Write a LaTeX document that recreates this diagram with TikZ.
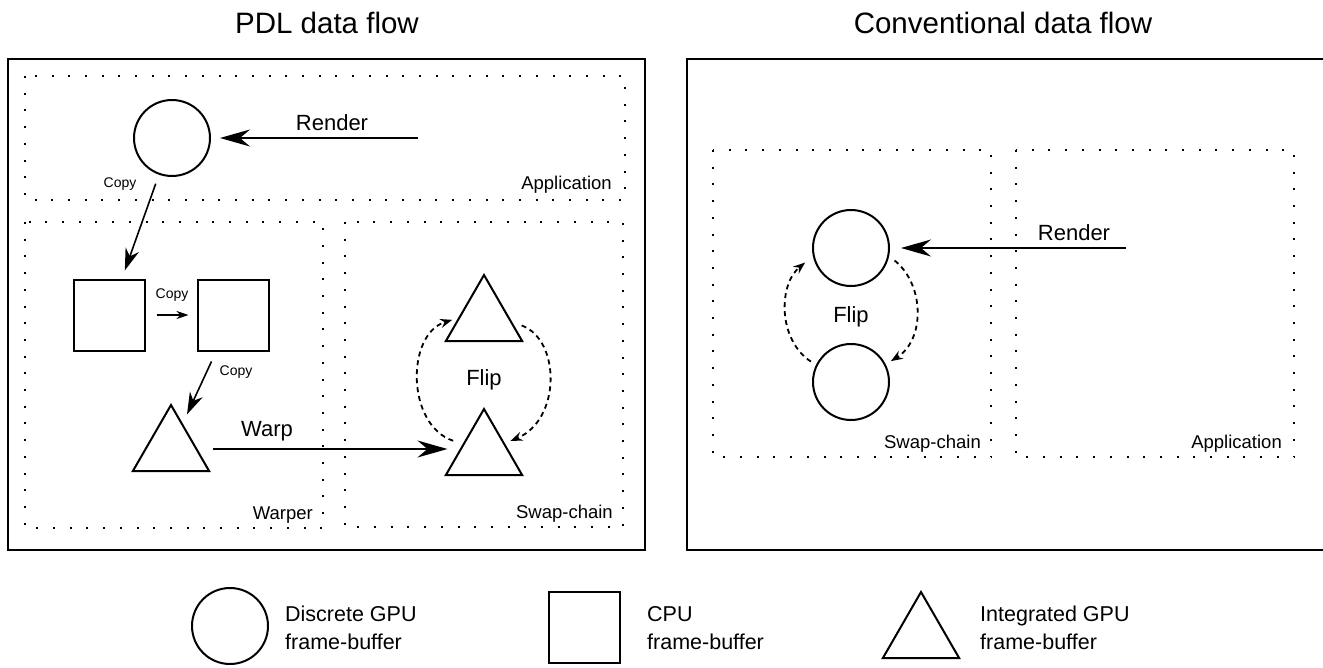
\documentclass[tikz,border=0pt]{standalone}
\usepackage{fontspec}
\setmainfont{Liberation Sans}
\usetikzlibrary{arrows.meta,shapes.geometric}
\begin{document}
\begin{tikzpicture}[x=1pt,y=-1pt,
  fbox/.style={draw, line width=2pt},
  region/.style={draw, line width=2pt, dash pattern=on 2pt off 14.7pt},
  dgpu/.style={circle, draw, line width=2pt, minimum size=76pt, inner sep=0pt},
  cpu/.style={rectangle, draw, line width=2pt, minimum size=71pt, inner sep=0pt},
  igpu/.style={regular polygon, regular polygon sides=3, draw, line width=2pt, minimum size=88pt, inner sep=0pt},
  big/.style={font=\fontsize{22}{26}\selectfont, anchor=base, inner sep=0pt},
  small/.style={font=\fontsize{14}{17}\selectfont, anchor=base, inner sep=0pt},
  reg/.style={font=\fontsize{18.5}{22}\selectfont, anchor=base east, inner sep=0pt},
  ttl/.style={font=\fontsize{29.5}{35}\selectfont, anchor=base, inner sep=0pt},
  legtxt/.style={font=\fontsize{21.5}{28}\selectfont, align=left, anchor=west, inner sep=0pt},
  arr/.style={line width=1.6pt},
  bigtip/.style={-{Stealth[length=30pt,width=17pt,inset=10pt]}},
  midtip/.style={-{Stealth[length=22pt,width=14pt,inset=7pt]}},
  smalltip/.style={-{Stealth[length=12pt,width=8pt,inset=4pt]}},
  fliparr/.style={line width=1.8pt, dash pattern=on 5pt off 4pt, -{Stealth[length=12pt,width=9pt,inset=4pt]}}
]
\useasboundingbox (0,0) rectangle (1323,667);
\clip (0,0) rectangle (1323,667);

% titles
\node[ttl] (t1) at (327,33) {PDL data flow};
\node[ttl] (t2) at (1003,33) {Conventional data flow};

% outer frames
\draw[fbox] (8,59) rectangle (645,550);
\draw[fbox] (687,59) rectangle (1340,550);

% left regions
\draw[region] (25,76) rectangle (625,200);
\draw[region] (25,222) rectangle (323,528);
\draw[region] (345,222) rectangle (623,527);
% right regions
\draw[region] (713,150) rectangle (991,457);
\draw[region] (1016,150) rectangle (1294,457);

% region labels
\node[reg] (lApp1) at (612,189) {Application};
\node[reg] (lWarper) at (313,519) {Warper};
\node[reg] (lSwap1) at (613,518) {Swap-chain};
\node[reg] (lSwap2) at (981,448) {Swap-chain};
\node[reg] (lApp2) at (1282,448) {Application};

% PDL nodes
\node[dgpu] (appA) at (172,138) {};
\node[cpu] (sq1) at (109,315) {};
\node[cpu] (sq2) at (233,315) {};
\node[igpu] (triL) at (171,449) {};
\node[igpu] (swA) at (484,319) {};
\node[igpu] (swB) at (484,453) {};
\coordinate (rendL) at (418,138);

\draw[arr,bigtip,shorten >=9pt] (rendL) -- (appA);
\node[big] (lRender) at (332,130) {Render};

\draw[arr,midtip,shorten <=9.5pt,shorten >=8.5pt] (appA) -- (sq1);
\node[small] (lCopy1) at (120,187) {Copy};

\draw[arr,smalltip,shorten <=11pt,shorten >=8pt] (sq1) -- (sq2);
\node[small] (lCopy2) at (172,298) {Copy};

\draw[arr,midtip,shorten <=11pt,shorten >=10pt] (sq2) -- (triL);
\node[small] (lCopy3) at (236,375) {Copy};

\draw[arr,bigtip,shorten <=15pt,shorten >=10pt] (triL.east) -- (triL.east -| swB.west);
\node[big] (lWarp) at (267,436) {Warp};

\draw[fliparr,shorten <=10pt,shorten >=6pt] (swB.157) .. controls (406,425) and (406,334) .. (swA.178);
\draw[fliparr,shorten <=10pt,shorten >=6pt] (swA.-6) .. controls (561,340) and (561,420) .. (swB.25);
\node[big] (lFlip1) at (484,385) {Flip};

% conventional nodes
\node[dgpu] (cC) at (851,248) {};
\node[dgpu] (cD) at (851,382) {};
\coordinate (rendR) at (1126,248);
\draw[arr,bigtip,shorten >=11pt] (rendR) -- (cC);
\node[big] (lRender2) at (1074,240) {Render};
\draw[fliparr,shorten <=6pt,shorten >=10pt] (cD.154) .. controls (778,340) and (778,285) .. (cC.192);
\draw[fliparr,shorten <=7pt,shorten >=6pt] (cC.-12) .. controls (925,285) and (925,340) .. (cD.27);
\node[big] (lFlip2) at (851,322) {Flip};

% legend
\node[dgpu] (legC) at (230,626) {};
\node[cpu] (legS) at (584,627) {};
\node[igpu] (legT) at (921,636) {};
\node[legtxt] (legCt) at (285,628) {Discrete GPU\\frame-buffer};
\node[legtxt] (legSt) at (647,628) {CPU\\frame-buffer};
\node[legtxt] (legTt) at (980,628) {Integrated GPU\\frame-buffer};
\end{tikzpicture}
\end{document}
